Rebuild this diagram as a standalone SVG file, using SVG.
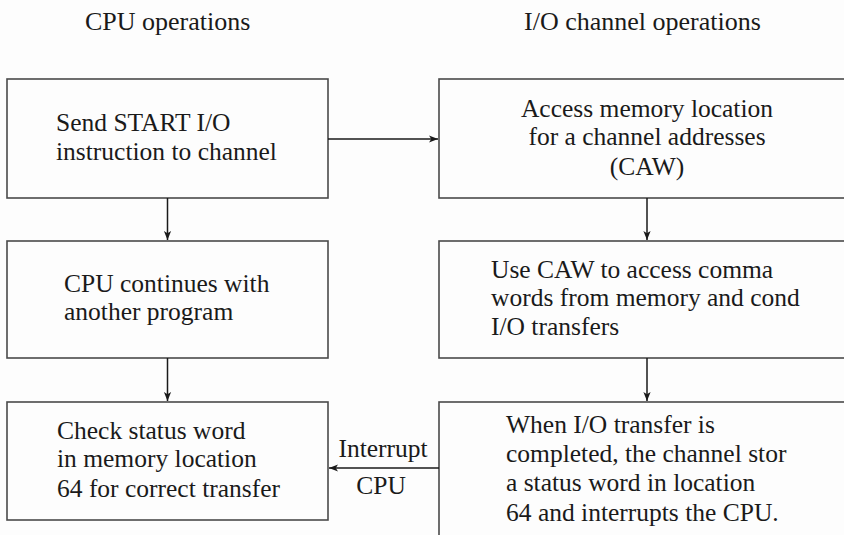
<svg xmlns="http://www.w3.org/2000/svg" width="844" height="535" viewBox="0 0 844 535" font-family="'Liberation Serif', 'DejaVu Serif', serif">
<defs>
<style>
.bx{fill:#fdfdfd;stroke:#4a4a4a;stroke-width:1.6}
text{font-family:'Liberation Serif','DejaVu Serif',serif}
.t{font-size:25.5px;fill:#1a1a1a}
.h{font-size:26px;fill:#1a1a1a}
.c{text-anchor:middle}
.ln{stroke:#1a1a1a;stroke-width:1.5;fill:none}
</style>
<marker id="ah" viewBox="0 0 10 10" refX="10" refY="5" markerWidth="9" markerHeight="9" markerUnits="userSpaceOnUse" orient="auto">
<path d="M0,1 L10,5 L0,9 L2.5,5 Z" fill="#1a1a1a"/>
</marker>
</defs>
<rect width="844" height="535" fill="#fdfdfd"/>
<text class="h" x="85" y="30">CPU operations</text>
<text class="h" x="524" y="30">I/O channel operations</text>
<g id="n1"><rect class="bx" x="7" y="79" width="321" height="119"/>
<text class="t" x="56" y="131">Send START I/O</text>
<text class="t" x="56" y="160">instruction to channel</text></g>
<g id="n2"><rect class="bx" x="439" y="79" width="420" height="119"/>
<text class="t c" x="647" y="117">Access memory location</text>
<text class="t c" x="647" y="145">for a channel addresses</text>
<text class="t c" x="647" y="175">(CAW)</text></g>
<g id="n3"><rect class="bx" x="7" y="241" width="321" height="117"/>
<text class="t" x="64" y="292">CPU continues with</text>
<text class="t" x="64" y="320">another program</text></g>
<g id="n4"><rect class="bx" x="439" y="241" width="420" height="117"/>
<text class="t" x="491" y="278">Use CAW to access comma</text>
<text class="t" x="491" y="306">words from memory and cond</text>
<text class="t" x="491" y="335">I/O transfers</text></g>
<g id="n5"><rect class="bx" x="7" y="402" width="321" height="118"/>
<text class="t" x="57" y="439">Check status word</text>
<text class="t" x="57" y="467">in memory location</text>
<text class="t" x="57" y="497">64 for correct transfer</text></g>
<g id="n6"><rect class="bx" x="439" y="402" width="420" height="150"/>
<text class="t" x="506" y="433">When I/O transfer is</text>
<text class="t" x="506" y="462">completed, the channel stor</text>
<text class="t" x="506" y="491">a status word in location</text>
<text class="t" x="506" y="521">64 and interrupts the CPU.</text></g>
<g id="connectors">
<line class="ln" x1="328" y1="139" x2="438" y2="139" marker-end="url(#ah)"/>
<line class="ln" x1="167.5" y1="198" x2="167.5" y2="240" marker-end="url(#ah)"/>
<line class="ln" x1="647" y1="198" x2="647" y2="240" marker-end="url(#ah)"/>
<line class="ln" x1="167.5" y1="358" x2="167.5" y2="401" marker-end="url(#ah)"/>
<line class="ln" x1="647" y1="358" x2="647" y2="401" marker-end="url(#ah)"/>
<line class="ln" x1="439" y1="468" x2="329" y2="468" marker-end="url(#ah)"/>
<text class="t c" x="383" y="457">Interrupt</text>
<text class="t c" x="381" y="494">CPU</text>
</g>
</svg>
